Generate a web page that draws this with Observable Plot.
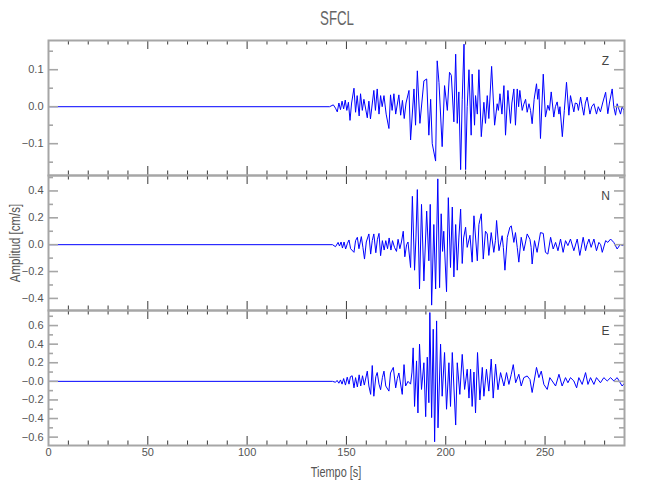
<!DOCTYPE html>
<html>
<head>
<meta charset="utf-8">
<script src="https://cdn.jsdelivr.net/npm/d3@7"></script>
<script src="https://cdn.jsdelivr.net/npm/@observablehq/plot@0.6"></script>
<style>
  body { margin: 0; background: #fff; }
  #wrap { position: relative; width: 650px; height: 500px; overflow: hidden; background: #fff;
          font-family: "Liberation Sans", Arial, sans-serif; }
  .panel { position: absolute; left: 0; }
  #ann { position: absolute; left: 0; top: 0; pointer-events: none; }
  #ann text { fill: #555; font-family: "Liberation Sans", Arial, sans-serif; }
</style>
</head>
<body>
<div id="wrap">
  <svg id="ann" width="650" height="500">
    <text transform="translate(337,25) scale(0.7,1.05)" text-anchor="middle" font-size="19" style="fill:#666">SFCL</text>
    <text transform="translate(20,243) rotate(-90) scale(0.82,1)" text-anchor="middle" font-size="14">Amplitud  [cm/s]</text>
    <text transform="translate(336,477) scale(0.78,1)" text-anchor="middle" font-size="14">Tiempo  [s]</text>
  </svg>
</div>
<script>
// ---------- data ----------
// Z component: times (s) and amplitudes (cm/s)
const tZ = [0,141.5,143.4,144.5,145.4,146.2,147,147.8,148.6,149.4,
  150.2,151,151.8,152.6,153.8,154.6,155.4,156.4,157.1,158,
  158.8,160.5,161.3,162.1,163.8,164.6,165.5,166.4,167.2,168,
  168.9,170,171.4,172.2,173,173.9,174.8,176.4,177.3,178.2,
  179.1,180,181.5,182.3,184,184.8,185.7,187,189,190.4,
  191.5,192.4,193.2,194.9,195.7,196.6,198.2,199.4,200.8,201.9,
  202.8,204.1,205,205.8,206.6,207.5,208.3,209.2,210,210.8,
  211.7,212.8,213.3,214.5,215,215.9,216.7,217.9,219.2,220,
  220.9,221.7,223.1,224.6,225.9,226.5,227.3,228.3,229.3,230.1,
  231.3,232.6,233.3,234.3,235.1,236,236.7,237.3,238.5,239.2,
  240.2,241,241.9,242.7,243.5,244.5,245.7,246.3,246.9,247.7,
  249.1,250.2,251.4,252.2,253.1,254.4,255.2,256.1,257,257.5,
  258.7,259.7,260.8,262,262.8,264.5,265.2,266.2,266.8,267.9,
  268.7,269.5,270.3,271.2,272.6,273.5,274.6,275.9,276.8,277.9,
  279,280.5,281.6,282.4,283.8,284.6,285.5,286.3,288,288.8,
  289.7,290];
const vZ = [0,0,0.005,-0.004,-0.014,0.01,-0.008,0.015,-0.006,0.018,
  -0.01,0.012,-0.037,0.01,0.05,-0.015,0.03,-0.025,0.035,-0.01,
  0.02,-0.03,0.015,-0.033,0.044,-0.01,0.048,-0.02,0.03,0,
  0.03,-0.02,-0.059,0.032,-0.01,0.035,-0.02,0.032,-0.023,0.017,
  -0.032,0.01,0.044,-0.09,0.048,-0.05,0.097,-0.045,0.07,0.075,
  -0.077,0.02,-0.1,-0.147,0.124,0.065,-0.108,0.057,-0.01,0.093,
  0.085,-0.041,0.142,-0.045,0.04,-0.17,0.02,0.169,-0.17,0,
  0.1,-0.077,0.088,-0.05,0.03,-0.02,0.1,-0.081,0.012,-0.045,
  0.03,-0.032,0.109,-0.05,0.008,-0.01,0.035,-0.02,0.057,-0.077,
  0.044,-0.045,0.01,0.048,-0.05,0.048,0,0.044,-0.01,0.005,
  0.02,-0.015,0.008,-0.01,-0.046,0.02,0.062,0.02,0.048,-0.086,
  0.088,-0.028,0.004,-0.01,0.04,-0.028,0,0.013,-0.02,0,
  -0.081,-0.01,0.066,-0.023,0.03,-0.014,0.01,0.008,-0.01,0.026,
  0,-0.023,0.01,0.026,-0.02,0,0.008,-0.02,0,-0.014,
  0.01,0.039,-0.019,0.01,0.048,0,-0.023,0.008,-0.02,0,
  -0.01,-0.03];

// N component
const tN = [0,143,144.5,145.8,146.5,147.3,148,148.8,149.6,150.5,
  151.3,152.1,153.8,154.6,155.5,156.3,157.5,158.3,159.1,160,
  161.3,162.2,163,163.8,164.8,165.6,166.4,167.2,168.1,169,
  169.8,170.7,171.5,172.4,173.2,174.2,175.2,176,176.9,177.7,
  178.6,179.4,180.3,181,182.3,183.2,184.3,185,185.7,186.8,
  187.8,189,190.4,191.5,192.2,192.9,194,194.9,196,196.9,
  197.7,198.4,199,200.4,201.3,202.4,203.3,204.1,205,205.8,
  206.6,207.5,208.3,209,210,210.8,212.2,213.3,214.2,215.9,
  216.7,217.9,218.9,220,220.9,221.7,222.9,224.2,225,225.6,
  226.8,228.4,229,229.8,231,232.3,233,234.3,235.1,236,
  236.8,238,239.3,240.2,241,242.4,243,243.5,244.7,246,
  247.7,249.1,250.2,251.4,252.8,254.1,255.3,256.5,257.8,259.1,
  260.3,261.5,262.8,264.5,266.2,267.5,269.2,270.4,271.1,272.1,
  273.2,274.6,275.9,277.1,278,278.8,280.5,281.6,283,284.6,
  286.3,288,289,290];
const vN = [0,0,-0.015,0.017,-0.01,0.02,-0.025,0.02,-0.032,0.01,
  0.035,-0.03,-0.057,0.03,0.055,-0.03,0.06,-0.02,-0.107,0.02,
  0.08,-0.07,0.03,0.08,-0.06,0.04,0.084,-0.082,0.03,-0.04,
  0.03,-0.03,0.05,-0.04,0.03,-0.02,-0.05,0.04,-0.03,0.02,
  0.1,-0.09,0,0.02,-0.17,0.36,-0.19,0.05,0.41,-0.33,
  0.3,-0.27,0.25,-0.12,0.3,-0.45,0.15,-0.33,0.49,-0.32,
  0.23,-0.05,0.1,-0.35,0.35,-0.17,0.28,-0.24,0.15,-0.19,
  0.05,0.265,-0.14,0.05,0.13,-0.02,0.07,-0.13,0.215,-0.12,
  0.15,0.23,-0.107,0.1,0.08,-0.08,0.09,-0.057,0.03,0.18,
  -0.045,0.067,-0.02,-0.19,0.055,0.13,0.14,0.017,0.09,-0.02,
  -0.13,0.055,-0.045,0.02,0.08,0.04,-0.02,-0.144,0.03,-0.057,
  0.09,0.084,-0.057,-0.07,0.055,-0.032,0.017,-0.045,0.042,-0.057,
  0.03,-0.007,0.042,-0.045,0.042,-0.08,0.055,-0.045,0,0.042,
  -0.02,0.042,-0.045,0.017,0,-0.057,0.03,0.017,0.042,0.017,
  -0.032,0.005,-0.01,0.01];

// E component
const tE = [0,143,144.5,145.3,146.2,147,147.8,148.6,149.5,150.4,
  151.3,152,152.9,153.8,154.6,155.5,156.4,157.2,158.1,159,
  160.5,161.3,162.2,163,163.8,164.8,165.5,166.4,167.2,168.1,
  168.9,169.8,171.4,172.2,173.6,174.8,175.6,176.4,178.1,179,
  179.8,181,182.3,183,183.6,184.3,185.3,186,186.8,187.8,
  189,189.9,190.7,191.5,192,192.9,193.7,194.4,195.4,196.1,
  197.4,198.2,199.4,200.4,201.6,202.4,203.3,205,205.8,207.1,
  208.3,209.5,210.8,211.7,212.5,213.3,214.2,215,216,217.2,
  218.4,219.2,220.5,221.7,222.9,223.9,225.1,226.3,227.6,229.3,
  230.6,231.8,233,234,235.2,236.8,238,239.3,241,242.4,
  243.5,245.7,246.9,248.1,249.4,251.1,252.4,253.6,255.3,257,
  258.6,260.3,261.5,262.8,264.5,265.9,267,268.7,270.4,271.6,
  272.9,274.6,275.9,277.9,279.6,281.3,283,284.6,286.3,288.8,
  290];
const vE = [0,0,-0.01,0.01,-0.02,0.015,-0.03,0.03,-0.04,0.045,
  -0.03,0.05,0.06,-0.07,0.04,-0.06,0.07,-0.05,0.06,-0.04,
  0.11,-0.05,-0.14,0.17,-0.16,0.05,0.095,-0.03,-0.09,0.04,
  0.11,-0.05,-0.105,0.09,0.15,-0.07,0.03,0.09,-0.14,0.18,
  -0.05,0,-0.03,0.1,0.36,-0.27,0.22,-0.34,0.4,-0.087,
  0.2,-0.38,0.26,-0.23,0.74,-0.39,0.56,-0.65,0.65,-0.5,
  0.4,-0.16,0.31,-0.3,0.2,-0.27,0.31,-0.47,0.2,-0.14,
  0.29,-0.087,0.13,-0.18,0.13,-0.27,0.1,-0.34,0.31,-0.2,
  0.15,-0.16,0.13,-0.105,0.24,-0.18,0.185,-0.09,0.094,-0.05,
  0.094,-0.033,0.076,0.18,-0.015,0.076,-0.05,0.04,0.058,0.02,
  -0.12,0.15,0.04,0.11,-0.033,-0.087,0.04,0.004,-0.05,0.076,
  -0.05,0.04,-0.015,0.04,0.004,-0.07,0.04,-0.033,0.094,-0.033,
  0.04,-0.033,0.04,-0.015,0.04,0.004,0.04,0.004,0.04,-0.05,
  -0.02];

// axis ticks and labels
const xMajor = [0, 50, 100, 150, 200, 250];
const xMinor = [10,20,30,40,60,70,80,90,110,120,130,140,160,170,180,190,210,220,230,240,260,270,280];
const yMajorZ = [-0.1, 0, 0.1];
const yLabelsZ = ["\u22120.1", "0.0", "0.1"];
const yMinorZ = [-0.15, -0.05, 0.05, 0.15];
const yMajorN = [-0.4, -0.2, 0, 0.2, 0.4];
const yLabelsN = ["\u22120.4", "\u22120.2", "0.0", "0.2", "0.4"];
const yMinorN = [-0.3, -0.1, 0.1, 0.3, 0.5];
const yMajorE = [-0.6, -0.4, -0.2, 0, 0.2, 0.4, 0.6];
const yLabelsE = ["\u22120.6", "\u22120.4", "\u22120.2", "\u22120.0", "0.2", "0.4", "0.6"];
const yMinorE = [-0.5, -0.3, -0.1, 0.1, 0.3, 0.5, 0.7];

// ---------- layout ----------
const xDomain = [0, 290];
const marginLeft = 48, marginRight = 26, plotH = 135;
const plotW = 650 - marginLeft - marginRight;
const frameGray = "#a6a6a6", tickDark = "#3a3a3a", traceBlue = "#0000ff";
const fontFamily = '"Liberation Sans", Arial, sans-serif';

function panel({times, values, yDomain, yMajor, yMinor, yLabels, letter, top, bottomAxis}) {
  const data = times.map((t, i) => ({t, v: values[i]}));
  const kx = plotW / (xDomain[1] - xDomain[0]);
  const ky = plotH / (yDomain[1] - yDomain[0]);
  const labelOf = new Map(yMajor.map((d, i) => [d, yLabels[i]]));
  const yt = (ticks, len) => [
    Plot.ruleY(ticks, {y: d => d, x1: xDomain[0], x2: xDomain[0] + len / kx, stroke: frameGray, strokeWidth: 1.6}),
    Plot.ruleY(ticks, {y: d => d, x1: xDomain[1] - len / kx, x2: xDomain[1], stroke: frameGray, strokeWidth: 1.6})
  ];
  const xt = (ticks, len) => [
    Plot.ruleX(ticks, {x: d => d, y1: yDomain[0], y2: yDomain[0] + len / ky, stroke: tickDark, strokeWidth: 1}),
    Plot.ruleX(ticks, {x: d => d, y1: yDomain[1] - len / ky, y2: yDomain[1], stroke: tickDark, strokeWidth: 1})
  ];
  const marks = [
    Plot.line(data, {x: "t", y: "v", stroke: traceBlue, strokeWidth: 1, clip: true}),
    ...yt(yMajor, 10), ...yt(yMinor, 5),
    ...xt(xMajor, 9), ...xt(xMinor, 4.5),
    Plot.frame({stroke: frameGray, strokeWidth: 2}),
    Plot.axisY(yMajor, {tickSize: 0, tickPadding: 5, tickFormat: d => labelOf.get(d), label: null, fontSize: 11}),
    Plot.text([letter], {text: d => d, frameAnchor: "top-right", dx: -19, dy: 21,
      textAnchor: "middle", lineAnchor: "middle", fontSize: 12, fill: "#444"})
  ];
  if (bottomAxis) marks.push(Plot.axisX(xMajor, {tickSize: 0, tickPadding: 3, label: null, fontSize: 11}));
  const mb = bottomAxis ? 35 : 5;
  const svg = Plot.plot({
    width: 650, height: 5 + plotH + mb,
    marginTop: 5, marginBottom: mb, marginLeft, marginRight,
    x: {domain: xDomain, axis: bottomAxis ? undefined : null},
    y: {domain: yDomain},
    style: {background: "transparent", overflow: "visible", color: "#555", fontFamily},
    marks
  });
  const div = document.createElement("div");
  div.className = "panel";
  div.style.top = (top - 5) + "px";
  div.appendChild(svg);
  document.getElementById("wrap").insertBefore(div, document.getElementById("ann"));
}

panel({times: tZ, values: vZ, yDomain: [-0.186, 0.179], yMajor: yMajorZ, yMinor: yMinorZ, yLabels: yLabelsZ, letter: "Z", top: 40, bottomAxis: false});
panel({times: tN, values: vN, yDomain: [-0.49, 0.515], yMajor: yMajorN, yMinor: yMinorN, yLabels: yLabelsN, letter: "N", top: 175, bottomAxis: false});
panel({times: tE, values: vE, yDomain: [-0.69, 0.762], yMajor: yMajorE, yMinor: yMinorE, yLabels: yLabelsE, letter: "E", top: 310, bottomAxis: true});
</script>
</body>
</html>
